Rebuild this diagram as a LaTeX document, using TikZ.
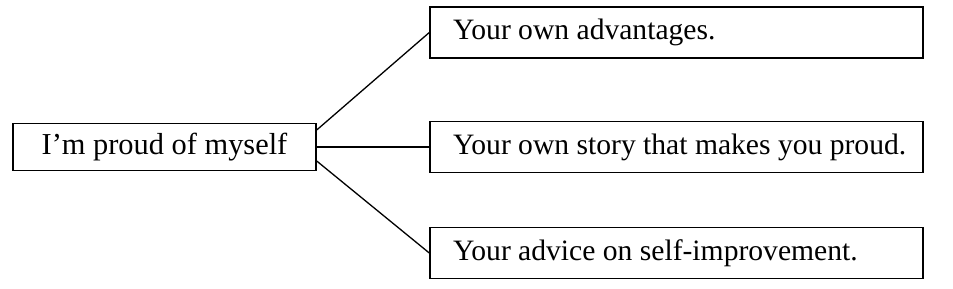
\documentclass[tikz,border=0pt]{standalone}
\usepackage{fontspec}
\setmainfont{Liberation Serif}
\usetikzlibrary{positioning}

\begin{document}
\begin{tikzpicture}[
  x=1pt, y=-1pt,
  every node/.style={draw, line width=1.4pt, inner sep=0pt},
  topic/.style={minimum width=303pt, minimum height=47pt, font=\fontsize{30.4}{36}\selectfont},
  item/.style={text width=490pt, inner xsep=1.5pt, minimum height=51pt, align=flush left,
    font=\fontsize{29.6}{35}\selectfont, execute at begin node=\hspace*{21.5pt}},
  link/.style={draw, line width=1.3pt}
]
\useasboundingbox (0,0) rectangle (953,289);
\node[topic] (me) at (164.5, 147) {I’m proud of myself};
\node[item] (adv) at (676.5, 32.5) {Your own advantages.};
\node[item] (story) at (676.5, 147) {Your own story that makes you proud.};
\node[item] (tips) at (676.5, 253) {Your advice on self-improvement.};
\draw[link] ([yshift=17pt]me.east) -- (adv.west);
\draw[link] (me.east) -- (story.west);
\draw[link] ([yshift=-14pt]me.east) -- (tips.west);
\end{tikzpicture}
\end{document}
